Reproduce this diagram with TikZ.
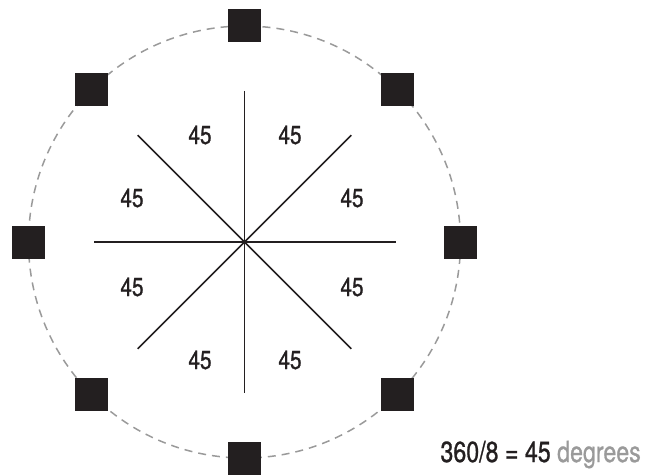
\documentclass[tikz,border=0pt]{standalone}
\usepackage{fontspec}
\usetikzlibrary{calc}
\setmainfont{TeX Gyre Heros}[FakeStretch=0.8,FakeBold=0.9]
\definecolor{sq}{HTML}{231F20}
\definecolor{ringgray}{HTML}{9A9A9A}
\begin{document}
\begin{tikzpicture}[x=1pt,y=-1pt,
  marker/.style={fill=sq,draw=none,minimum size=33pt,inner sep=0pt,rectangle},
  spoke/.style={draw=sq,line width=1.5pt},
  lab/.style={font=\fontsize{26}{26}\selectfont,text=sq,inner sep=0pt}]
\useasboundingbox (0,0) rectangle (645,476);
\coordinate (c) at (244.5,242);
\draw[draw=ringgray,line width=1.5pt,dash pattern=on 8pt off 6pt] (c) circle (216);
\foreach \a/\n in {0/e,45/ne,90/n,135/nw,180/w,225/sw,270/s,315/se}{
  \node[marker] (m\n) at ($(c)+({216*cos(\a)},{-216*sin(\a)})$) {};
  \coordinate (p\n) at ($(c)+({151*cos(\a)},{-151*sin(\a)})$);
}
\draw[spoke] (pn) -- (ps);
\draw[spoke] (pe) -- (pw);
\draw[spoke] (pne) -- (psw);
\draw[spoke] (pnw) -- (pse);
\node[lab] (l1) at (200,135) {45};
\node[lab] (l2) at (290,135) {45};
\node[lab] (l3) at (132,198) {45};
\node[lab] (l4) at (352,198) {45};
\node[lab] (l5) at (132,287) {45};
\node[lab] (l6) at (352,287) {45};
\node[lab] (l7) at (200,360) {45};
\node[lab] (l8) at (290,360) {45};
\node[anchor=base east,font=\fontsize{29}{29}\selectfont,inner sep=0pt,text=sq] (eq) at (641,462) {360/8 = 45 \textcolor{ringgray}{degrees}};
\end{tikzpicture}
\end{document}
